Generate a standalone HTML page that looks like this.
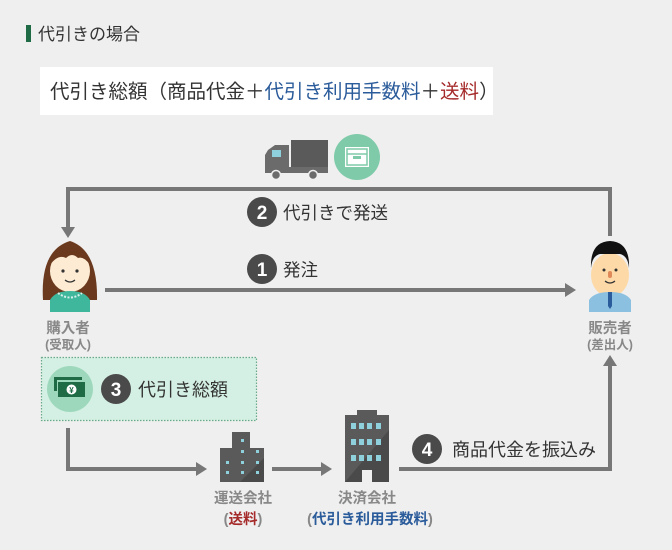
<!DOCTYPE html>
<html><head><meta charset="utf-8"><style>
html,body{margin:0;padding:0;background:#efefef;}
svg{display:block;font-family:"Liberation Sans","Noto Sans CJK JP",sans-serif;}
</style></head><body>
<svg width="672" height="550" viewBox="0 0 672 550">
<rect width="672" height="550" fill="#efefef"/>
<rect x="26" y="25" width="5" height="17" fill="#1f6b46"/>
<text x="38" y="40" font-size="17" fill="#333">代引きの場合</text>
<rect x="40" y="67" width="453" height="48" fill="#fff"/>
<text x="50" y="98" font-size="19.5" fill="#333">代引き総額（商品代金＋<tspan fill="#2a5b9a">代引き利用手数料</tspan>＋<tspan fill="#a52a2a">送料</tspan>）</text>
<!-- truck -->
<g>
<rect x="291" y="140" width="37" height="27" fill="#5a5a5a"/>
<path d="M268 150 L275 145 L289 145 L289 172 L265 172 L265 155 Z" fill="#6b6b6b"/>
<rect x="272" y="150" width="9" height="7" fill="#8ed0dc"/>
<rect x="265" y="167" width="63" height="6" fill="#6b6b6b"/>
<circle cx="276" cy="175" r="4.5" fill="#6b6b6b" stroke="#efefef" stroke-width="1.5"/>
<circle cx="313" cy="175" r="4.5" fill="#6b6b6b" stroke="#efefef" stroke-width="1.5"/>
</g>
<circle cx="357" cy="157" r="23" fill="#7ecaa9"/>
<rect x="345" y="147" width="24" height="20" fill="#fff"/>
<rect x="347" y="149" width="20" height="16" fill="none" stroke="#7ecaa9" stroke-width="1.5"/>
<line x1="347" y1="154" x2="367" y2="154" stroke="#7ecaa9" stroke-width="1.5"/>
<rect x="353" y="156" width="8" height="3" fill="#7ecaa9"/>
<!-- top connector -->
<polyline points="610,236 610,189 68,189 68,228" fill="none" stroke="#777" stroke-width="4"/>
<polygon points="61,227 75,227 68,238" fill="#777"/>
<circle cx="262" cy="212" r="15" fill="#4a4a4a"/>
<text x="262" y="219" font-size="19" font-weight="bold" fill="#fff" text-anchor="middle">2</text>
<text x="283" y="219" font-size="17.5" fill="#333">代引きで発送</text>
<circle cx="262" cy="269" r="15" fill="#4a4a4a"/>
<text x="262" y="276" font-size="19" font-weight="bold" fill="#fff" text-anchor="middle">1</text>
<text x="283" y="276" font-size="17.5" fill="#333">発注</text>
<line x1="105" y1="290" x2="566" y2="290" stroke="#777" stroke-width="4"/>
<polygon points="565,283 576,290 565,297" fill="#777"/>
<!-- woman -->
<g>
<path d="M43 300 Q40 250 70 241 Q98 250 97 300 Z" fill="#6b3a1e"/>
<ellipse cx="70" cy="271" rx="20" ry="21" fill="#fdebd3"/>
<path d="M50 265 Q52 247 70 247 Q88 247 90 265 Q84 256 78 258 Q72 252 66 258 Q58 254 50 265Z" fill="#6b3a1e"/>
<circle cx="63" cy="271" r="1.6" fill="#333"/><circle cx="77" cy="271" r="1.6" fill="#333"/>
<path d="M65 280 Q70 284 75 280" fill="none" stroke="#333" stroke-width="1.2"/>
<path d="M50 312 L50 300 Q55 291 70 291 Q85 291 90 300 L90 312 Z" fill="#3fb79c"/>
<path d="M58 293 Q70 302 82 293" fill="none" stroke="#d6f0ea" stroke-width="2" stroke-dasharray="2 1.5"/>
</g>
<text x="68" y="333" font-size="14.5" font-weight="bold" fill="#888" text-anchor="middle">購入者</text>
<text x="68" y="349" font-size="12.5" font-weight="bold" fill="#888" text-anchor="middle">(受取人)</text>
<!-- man -->
<g>
<ellipse cx="610" cy="275" rx="19" ry="22" fill="#fdd9a8"/>
<path d="M591 268 Q590 242 610 241 Q630 242 629 268 Q628 256 620 254 L600 254 Q592 256 591 268Z" fill="#111"/>
<circle cx="604" cy="270" r="1.5" fill="#333"/><circle cx="616" cy="270" r="1.5" fill="#333"/>
<rect x="608" y="271" width="4" height="7" rx="2" fill="#e08a5a"/>
<path d="M605 281 Q610 285 615 281" fill="none" stroke="#333" stroke-width="1.2"/>
<path d="M589 312 L589 300 Q594 292 610 292 Q626 292 631 300 L631 312 Z" fill="#8cc0e0"/>
<path d="M608 292 L612 292 L612 306 L610 309 L608 306Z" fill="#2a5b9a"/>
</g>
<text x="610" y="333" font-size="14.5" font-weight="bold" fill="#888" text-anchor="middle">販売者</text>
<text x="610" y="349" font-size="12.5" font-weight="bold" fill="#888" text-anchor="middle">(差出人)</text>
<!-- dotted box -->
<rect x="41.5" y="357.5" width="215" height="63" fill="#d4f0e4" stroke="#6aaa88" stroke-width="1.2" stroke-dasharray="1.5 1.5"/>
<circle cx="70" cy="389" r="23" fill="#9ed8bc"/>
<rect x="54" y="377" width="28" height="3" fill="#1f6b46"/>
<rect x="54" y="377" width="3" height="14" fill="#1f6b46"/>
<rect x="58" y="382" width="27" height="15" fill="#1f6b46"/>
<ellipse cx="71.5" cy="389.5" rx="5" ry="5" fill="#fff"/>
<text x="71.5" y="393" font-size="8" font-weight="bold" fill="#1f6b46" text-anchor="middle">¥</text>
<circle cx="116" cy="389" r="15" fill="#4a4a4a"/>
<text x="116" y="396" font-size="19" font-weight="bold" fill="#fff" text-anchor="middle">3</text>
<text x="138" y="396" font-size="18" fill="#333">代引き総額</text>
<!-- bottom connectors -->
<polyline points="68,428 68,469 198,469" fill="none" stroke="#777" stroke-width="4"/>
<polygon points="196,462 207,469 196,476" fill="#777"/>
<line x1="272" y1="469" x2="322" y2="469" stroke="#777" stroke-width="4"/>
<polygon points="321,462 332,469 321,476" fill="#777"/>
<polyline points="399,469 610,469 610,364" fill="none" stroke="#777" stroke-width="4"/>
<polygon points="603,366 617,366 610,355" fill="#777"/>
<circle cx="427" cy="449" r="15" fill="#4a4a4a"/>
<text x="427" y="456" font-size="19" font-weight="bold" fill="#fff" text-anchor="middle">4</text>
<text x="452" y="456" font-size="18" fill="#333">商品代金を振込み</text>
<!-- building 1 -->
<g>
<rect x="232" y="432" width="18" height="50" fill="#5a5a5a"/>
<rect x="220" y="448" width="44" height="34" fill="#5a5a5a"/>
<path d="M240 482 L264 458 L264 482Z" fill="#4a4a4a"/>
<g fill="#8ed0dc">
<rect x="241" y="439" width="3" height="3"/><rect x="241" y="450" width="3" height="3"/><rect x="256" y="450" width="3" height="3"/>
<rect x="226" y="461" width="3" height="3"/><rect x="241" y="461" width="3" height="3"/><rect x="256" y="461" width="3" height="3"/>
<rect x="226" y="471" width="3" height="3"/><rect x="241" y="471" width="3" height="3"/><rect x="256" y="471" width="3" height="3"/>
</g>
</g>
<text x="243" y="503" font-size="14.5" font-weight="bold" fill="#888" text-anchor="middle">運送会社</text>
<text x="243" y="524" font-size="14.5" font-weight="bold" fill="#888" text-anchor="middle">(<tspan fill="#a52a2a">送料</tspan>)</text>
<!-- building 2 -->
<g>
<rect x="357" y="410" width="20" height="6" fill="#5a5a5a"/>
<rect x="345" y="415" width="44" height="67" fill="#5a5a5a"/>
<path d="M345 482 L389 430 L389 482Z" fill="#4a4a4a"/>
<g fill="#8ed0dc">
<rect x="351" y="423" width="5" height="6"/><rect x="359" y="423" width="5" height="6"/><rect x="367" y="423" width="5" height="6"/><rect x="376" y="423" width="5" height="6"/>
<rect x="351" y="439" width="5" height="6"/><rect x="359" y="439" width="5" height="6"/><rect x="367" y="439" width="5" height="6"/><rect x="376" y="439" width="5" height="6"/>
<rect x="351" y="455" width="5" height="6"/><rect x="359" y="455" width="5" height="6"/><rect x="367" y="455" width="5" height="6"/><rect x="376" y="455" width="5" height="6"/>
</g>
<rect x="362" y="470" width="10" height="12" fill="#efefef"/>
</g>
<text x="367" y="503" font-size="14.5" font-weight="bold" fill="#888" text-anchor="middle">決済会社</text>
<text x="370" y="524" font-size="14.5" font-weight="bold" fill="#888" text-anchor="middle">(<tspan fill="#2a5b9a">代引き利用手数料</tspan>)</text>
</svg>
</body></html>
